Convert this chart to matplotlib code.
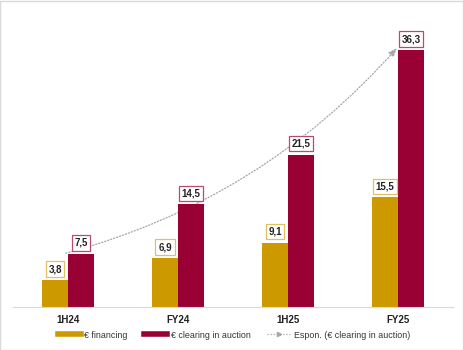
import matplotlib
matplotlib.use('Agg')
import matplotlib.pyplot as plt
from matplotlib.lines import Line2D
from matplotlib.patches import Rectangle
import numpy as np

plt.rcParams['font.family'] = ['Liberation Sans', 'DejaVu Sans']

periods = ['1H24', 'FY24', '1H25', 'FY25']
financing = [3.8, 6.9, 9.1, 15.5]
clearing = [7.5, 14.5, 21.5, 36.3]

gold = '#CC9900'
red = '#990033'
grey = '#A6A6A6'

fig = plt.figure(figsize=(4.64, 3.5), dpi=100)
ax = fig.add_axes([13 / 464, 1 - 307 / 350, 440 / 464, 283 / 350])

x = np.arange(len(periods))
w = 0.236
ax.bar(x - w / 2, financing, w, color=gold, zorder=2)
ax.bar(x + w / 2, clearing, w, color=red, zorder=2)

def fmt(v):
    return ('%.1f' % v).replace('.', ',')

for xi, v in zip(x - w / 2, financing):
    ax.annotate(fmt(v), (xi, v), xytext=(0, 8), textcoords='offset points',
                ha='center', va='center', fontsize=7, fontweight='bold',
                color='#222222', zorder=5,
                bbox=dict(boxstyle='square,pad=0.28', fc='white', ec='#E0C060', lw=0.9))
for xi, v in zip(x + w / 2, clearing):
    ax.annotate(fmt(v), (xi, v), xytext=(0, 8), textcoords='offset points',
                ha='center', va='center', fontsize=7, fontweight='bold',
                color='#222222', zorder=5,
                bbox=dict(boxstyle='square,pad=0.28', fc='white', ec='#B84A70', lw=0.9))

# trend arrow (Espon.)
ax.annotate('', xy=(x[-1] - 0.01, clearing[-1] + 0.3), xytext=(x[0] - 0.02, clearing[0] + 0.1),
            arrowprops=dict(arrowstyle='-|>,head_length=0.5,head_width=0.2', color=grey,
                            lw=0.9, ls=(0, (1, 1.5)), connectionstyle='arc3,rad=0.15',
                            shrinkA=0, shrinkB=0),
            zorder=1)

ax.set_xlim(-0.5, 3.5)
ax.set_ylim(0, 40)
for s in ['top', 'right', 'left']:
    ax.spines[s].set_visible(False)
ax.spines['bottom'].set_color('#D9D9D9')
ax.spines['bottom'].set_linewidth(0.8)
ax.set_yticks([])
ax.set_xticks(x)
ax.set_xticklabels(periods, fontsize=7, fontweight='bold', color='#222222')
ax.tick_params(axis='x', length=0, pad=6)

handles = [Line2D([], [], color=gold, lw=4),
           Line2D([], [], color=red, lw=4),
           Line2D([], [], color=grey, lw=0.9, ls=(0, (1, 1.5)), marker='>',
                  markevery=[1], markersize=3)]
labels = ['€ financing', '€ clearing in auction', 'Espon. (€ clearing in auction)']
fig.legend(handles, labels, loc='center', bbox_to_anchor=(0.504, 1 - 335 / 350),
           ncol=3, frameon=False, fontsize=6.4, handlelength=2.6, handletextpad=0.35,
           columnspacing=1.9, labelcolor='#333333')

fig.patches.append(Rectangle((0.001, 0.001), 0.997, 0.996, transform=fig.transFigure,
                             fill=False, ec='#D9D9D9', lw=1))

fig.savefig('out.png', dpi=100)
